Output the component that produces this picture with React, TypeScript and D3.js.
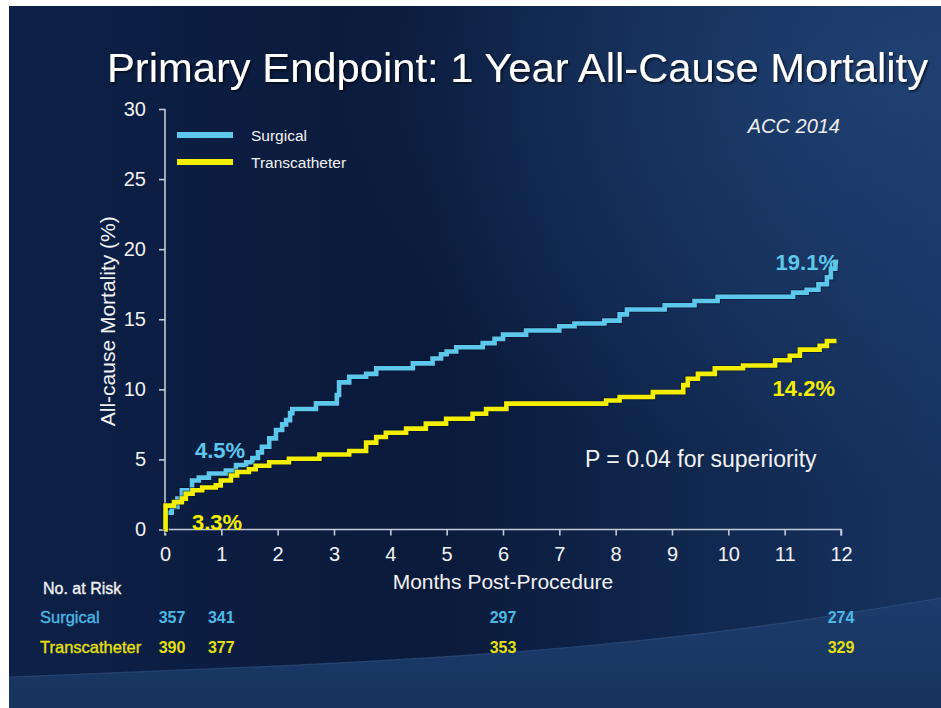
import { useEffect, useRef } from "react";
import * as d3 from "d3";

// Kaplan-Meier style curves (months, cumulative mortality %)
const surgicalMonths = [0, 0.01, 0.12, 0.22, 0.3, 0.48, 0.6, 0.78, 1.08, 1.26, 1.44, 1.55, 1.65, 1.72, 1.85, 1.97, 2.08, 2.15, 2.22, 2.26, 2.68, 3.05, 3.09, 3.27, 3.57, 3.75, 4.4, 4.75, 4.9, 5.0, 5.17, 5.64, 5.85, 6.0, 6.41, 7.0, 7.27, 7.8, 8.07, 8.2, 8.87, 9.4, 9.81, 11.15, 11.39, 11.6, 11.75, 11.82, 11.9, 11.95];
const surgicalPct = [0, 1.2, 1.6, 2.2, 2.8, 3.5, 3.7, 4.0, 4.2, 4.6, 4.8, 5.1, 5.5, 5.9, 6.5, 7.1, 7.5, 7.8, 8.3, 8.6, 9.0, 9.6, 10.5, 10.9, 11.1, 11.5, 11.85, 12.2, 12.5, 12.7, 13.0, 13.3, 13.6, 13.9, 14.2, 14.5, 14.7, 14.9, 15.35, 15.7, 16.0, 16.3, 16.6, 16.9, 17.1, 17.5, 18.0, 18.6, 19.1, 19.1];

const transMonths = [0, 0.01, 0.16, 0.3, 0.37, 0.49, 0.66, 0.9, 0.99, 1.17, 1.28, 1.49, 1.61, 1.85, 2.2, 2.74, 3.27, 3.57, 3.75, 3.92, 4.28, 4.63, 4.99, 5.46, 5.7, 6.06, 7.83, 8.07, 8.66, 9.2, 9.28, 9.46, 9.76, 10.26, 10.83, 11.09, 11.27, 11.62, 11.75, 11.92];
const transPct = [0, 1.7, 1.95, 2.2, 2.55, 2.8, 3.0, 3.15, 3.5, 3.85, 4.1, 4.3, 4.55, 4.8, 5.05, 5.35, 5.6, 6.2, 6.6, 6.9, 7.2, 7.55, 7.9, 8.26, 8.6, 8.98, 9.2, 9.45, 9.8, 10.3, 10.75, 11.1, 11.5, 11.7, 12.07, 12.4, 12.83, 13.1, 13.45, 13.45];

const xTicks = d3.range(0, 13);
const yTicks = [0, 5, 10, 15, 20, 25, 30];

const riskMonths = [0, 1, 6, 12];
const surgicalAtRisk = [357, 341, 297, 274];
const transAtRisk = [390, 377, 353, 329];

const CYAN = "#5ec8ec";
const YELLOW = "#f4ee00";
const FONT = "'Liberation Sans', Arial, sans-serif";

export default function App() {
  const svgRef = useRef<SVGSVGElement>(null);

  useEffect(() => {
    if (!svgRef.current) return;
    const width = 941;
    const height = 708;

    const svg = d3.select(svgRef.current);
    svg.selectAll("*").remove();

    const defs = svg.append("defs");
    const bg = defs.append("linearGradient").attr("id", "bg").attr("x1", 0).attr("x2", 1).attr("y1", 0).attr("y2", 0);
    bg.append("stop").attr("offset", "0%").attr("stop-color", "#0d2047");
    bg.append("stop").attr("offset", "45%").attr("stop-color", "#0a1a3b");
    bg.append("stop").attr("offset", "100%").attr("stop-color", "#163360");
    const glow = defs.append("radialGradient").attr("id", "glow").attr("cx", 0.95).attr("cy", 0.1).attr("r", 0.6);
    glow.append("stop").attr("offset", "0%").attr("stop-color", "#23467a").attr("stop-opacity", 0.7);
    glow.append("stop").attr("offset", "100%").attr("stop-color", "#23467a").attr("stop-opacity", 0);
    const swoosh = defs.append("linearGradient").attr("id", "swoosh").attr("x1", 0).attr("x2", 0).attr("y1", 0).attr("y2", 1);
    swoosh.append("stop").attr("offset", "0%").attr("stop-color", "#1d3c6c");
    swoosh.append("stop").attr("offset", "100%").attr("stop-color", "#17345f");
    const shadow = defs.append("filter").attr("id", "shadow").attr("x", "-5%").attr("y", "-20%").attr("width", "110%").attr("height", "140%");
    shadow.append("feDropShadow").attr("dx", 1.5).attr("dy", 1.5).attr("stdDeviation", 1.2).attr("flood-color", "#000").attr("flood-opacity", 0.7);

    // slide background
    svg.append("rect").attr("width", width).attr("height", height).attr("fill", "#ffffff");
    svg.append("rect").attr("x", 9).attr("y", 6).attr("width", width - 9).attr("height", height - 6).attr("fill", "url(#bg)");
    svg.append("rect").attr("x", 9).attr("y", 6).attr("width", width - 9).attr("height", height - 6).attr("fill", "url(#glow)");
    const swooshPath = d3.line().curve(d3.curveBasis)([[9, 677], [300, 666], [560, 650], [760, 628], [941, 598]]);
    svg.append("path")
      .attr("d", `${swooshPath} L941,708 L9,708 Z`)
      .attr("fill", "url(#swoosh)");
    svg.append("path").attr("d", swooshPath).attr("fill", "none").attr("stroke", "#3a5d8e").attr("stroke-width", 1.2).attr("opacity", 0.5);

    const x = d3.scaleLinear().domain([0, 12]).range([165, 841]);
    const y = d3.scaleLinear().domain([0, 30]).range([529.5, 109]);

    // title
    svg.append("text")
      .attr("x", 107).attr("y", 82)
      .attr("font-family", FONT).attr("font-size", 41)
      .attr("textLength", 821).attr("lengthAdjust", "spacingAndGlyphs")
      .attr("fill", "#ffffff").attr("filter", "url(#shadow)")
      .text("Primary Endpoint: 1 Year All-Cause Mortality");

    // axes
    const axisColor = "#c4cad6";
    const gx = svg.append("g").attr("transform", `translate(0,${y(0)})`)
      .call(d3.axisBottom(x).tickValues(xTicks).tickSize(6).tickPadding(11).tickFormat(d3.format("d")));
    const gy = svg.append("g").attr("transform", `translate(${x(0)},0)`)
      .call(d3.axisLeft(y).tickValues(yTicks).tickSize(6).tickPadding(13));
    [gx, gy].forEach((g) => {
      g.select(".domain").attr("stroke", axisColor).attr("stroke-width", 1.6);
      g.selectAll(".tick line").attr("stroke", axisColor).attr("stroke-width", 1.6);
      g.selectAll(".tick text").attr("fill", "#f2f2f2").attr("font-size", 20).attr("font-family", FONT);
    });
    gx.select(".domain").attr("d", `M${x(0)},6V0H${x(12)}V6`);
    gy.select(".domain").attr("d", `M0,${y(0)}V${y(30)}`);

    svg.append("text")
      .attr("transform", `translate(115,${(y(0) + y(30)) / 2 + 2}) rotate(-90)`)
      .attr("text-anchor", "middle")
      .attr("font-family", FONT).attr("font-size", 21).attr("fill", "#f2f2f2")
      .text("All-cause Mortality (%)");
    svg.append("text")
      .attr("x", 503).attr("y", 589)
      .attr("text-anchor", "middle")
      .attr("font-family", FONT).attr("font-size", 21).attr("fill", "#f2f2f2")
      .text("Months Post-Procedure");

    // curves
    const line = d3.line<[number, number]>()
      .x((d) => x(d[0]))
      .y((d) => y(d[1]))
      .curve(d3.curveStepAfter);
    const series = [
      { months: surgicalMonths, pct: surgicalPct, color: CYAN },
      { months: transMonths, pct: transPct, color: YELLOW },
    ];
    series.forEach((s) => {
      const pts = s.months.map((m, i) => [m, s.pct[i]] as [number, number]);
      svg.append("path").attr("d", line(pts)).attr("fill", "none")
        .attr("stroke", "#06112a").attr("stroke-width", 6.5).attr("opacity", 0.5);
      svg.append("path").attr("d", line(pts)).attr("fill", "none")
        .attr("stroke", s.color).attr("stroke-width", 4.6).attr("stroke-linejoin", "miter");
    });

    // legend
    const legend = [
      { label: "Surgical", color: CYAN, y: 135 },
      { label: "Transcatheter", color: YELLOW, y: 162 },
    ];
    legend.forEach((l) => {
      svg.append("line").attr("x1", 177).attr("x2", 233).attr("y1", l.y).attr("y2", l.y)
        .attr("stroke", l.color).attr("stroke-width", 6);
      svg.append("text").attr("x", 251).attr("y", l.y + 5.5)
        .attr("font-family", FONT).attr("font-size", 15.5).attr("fill", "#f2f2f2")
        .text(l.label);
    });

    svg.append("text").attr("x", 840).attr("y", 133).attr("text-anchor", "end")
      .attr("font-family", FONT).attr("font-size", 20).attr("font-style", "italic").attr("fill", "#eeeeee")
      .text("ACC 2014");

    // annotations
    const notes = [
      { text: "19.1%", x: 838, y: 270, anchor: "end", color: CYAN },
      { text: "14.2%", x: 835, y: 396, anchor: "end", color: YELLOW },
      { text: "4.5%", x: 195, y: 458, anchor: "start", color: CYAN },
      { text: "3.3%", x: 192, y: 530, anchor: "start", color: YELLOW },
    ];
    notes.forEach((n) => {
      svg.append("text").attr("x", n.x).attr("y", n.y).attr("text-anchor", n.anchor)
        .attr("font-family", FONT).attr("font-size", 22).attr("font-weight", "bold").attr("fill", n.color)
        .text(n.text);
    });
    svg.append("text").attr("x", 585).attr("y", 467)
      .attr("font-family", FONT).attr("font-size", 23).attr("fill", "#f2f2f2")
      .text("P = 0.04 for superiority");

    // number at risk table
    svg.append("text").attr("x", 43).attr("y", 594)
      .attr("font-family", FONT).attr("font-size", 16).attr("fill", "#f2f2f2")
      .attr("stroke", "#f2f2f2").attr("stroke-width", 0.35)
      .text("No. at Risk");
    const rows = [
      { label: "Surgical", values: surgicalAtRisk, color: "#4db9e2", y: 623 },
      { label: "Transcatheter", values: transAtRisk, color: "#e6e010", y: 653 },
    ];
    rows.forEach((r) => {
      svg.append("text").attr("x", 40).attr("y", r.y)
        .attr("font-family", FONT).attr("font-size", 16.5).attr("fill", r.color)
        .attr("stroke", r.color).attr("stroke-width", 0.35)
        .text(r.label);
      svg.selectAll(null).data(r.values).enter().append("text")
        .attr("x", (_d, i) => x(riskMonths[i]) + (i === 0 ? 7 : 0))
        .attr("y", r.y)
        .attr("text-anchor", "middle")
        .attr("font-family", FONT).attr("font-size", 16).attr("font-weight", "bold").attr("fill", r.color)
        .text((d) => String(d));
    });
  }, []);

  return (
    <svg
      ref={svgRef}
      width={941}
      height={708}
      style={{ position: "absolute", left: 0, top: 0, display: "block" }}
    />
  );
}
